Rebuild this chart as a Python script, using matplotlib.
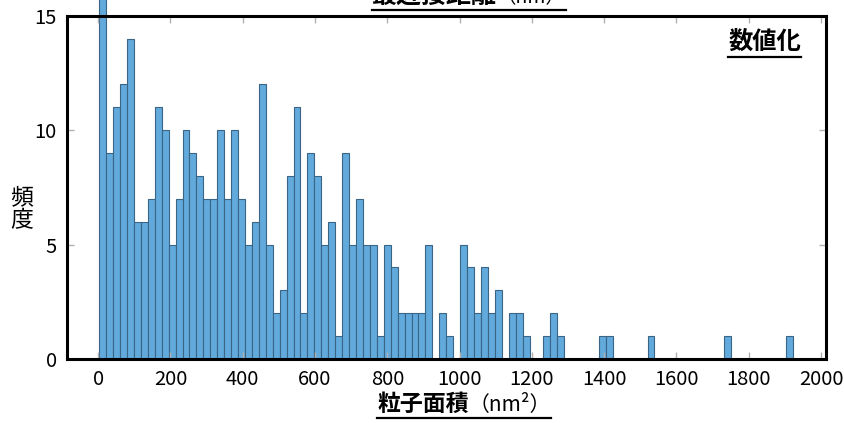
import numpy as np
import matplotlib
matplotlib.use('Agg')
import matplotlib.pyplot as plt
from matplotlib.lines import Line2D

plt.rcParams['font.family'] = ['Noto Sans CJK JP', 'DejaVu Sans']

# histogram counts per bin (100 bins)
counts = [16, 9, 11, 12, 14, 6, 6, 7, 11, 10,
          5, 7, 10, 9, 8, 7, 7, 10, 7, 10,
          7, 5, 6, 12, 5, 2, 3, 8, 11, 2,
          9, 8, 5, 6, 1, 9, 5, 7, 5, 5,
          1, 5, 4, 2, 2, 2, 2, 5, 0, 2,
          1, 0, 5, 4, 2, 4, 2, 3, 0, 2,
          2, 1, 0, 0, 1, 2, 1, 0, 0, 0,
          0, 0, 1, 1, 0, 0, 0, 0, 0, 1,
          0, 0, 0, 0, 0, 0, 0, 0, 0, 0,
          1, 0, 0, 0, 0, 0, 0, 0, 0, 1]
bin_lo = 3
bin_hi = 1923
bin_edges = np.linspace(bin_lo, bin_hi, len(counts) + 1)
x_ticks = [0, 200, 400, 600, 800, 1000, 1200, 1400, 1600, 1800, 2000]
y_ticks = [0, 5, 10, 15]

W, H = 845, 423
fig = plt.figure(figsize=(W / 100, H / 100), dpi=100)
ax = fig.add_axes([66.7 / W, 1 - 359 / H, (826.5 - 66.7) / W, (359 - 15.7) / H])

ax.bar(bin_edges[:-1], counts, width=np.diff(bin_edges), align='edge',
       color='#62a9dc', edgecolor='#3a6585', linewidth=0.8, clip_on=False)

ax.set_xlim(-87, 2015)
ax.set_ylim(0, 15)
ax.set_xticks(x_ticks)
ax.set_yticks(y_ticks)
ax.tick_params(direction='in', top=True, right=True, length=5, width=1,
               color='#b0b0b0', labelsize=14.5, pad=7)
for s in ax.spines.values():
    s.set_linewidth(2.2)
    s.set_color('black')
    s.set_zorder(5)


def px(x, y):
    return x / W, 1 - y / H


def underline(texts, y, lw=1.6):
    fig.canvas.draw()
    r = fig.canvas.get_renderer()
    bbs = [t.get_window_extent(r) for t in texts]
    x0 = min(b.x0 for b in bbs)
    x1 = max(b.x1 for b in bbs)
    fig.add_artist(Line2D([x0 / W, x1 / W], [1 - y / H] * 2,
                          color='black', lw=lw))


# title (cut at top, as in the source)
t1 = fig.text(*px(497, 8), '最近接距離', fontsize=18, fontweight='bold',
              ha='right', va='bottom')
t2 = fig.text(*px(497, 8), '（nm）', fontsize=14, ha='left', va='bottom')
underline([t1, t2], 10)

# x label
x1 = fig.text(*px(469, 416), '粒子面積', fontsize=16.5, fontweight='bold',
              ha='right', va='bottom')
x2 = fig.text(*px(469, 416), '（nm²）', fontsize=15, ha='left', va='bottom')
underline([x1, x2], 418)

# y label
fig.text(*px(22, 209), '頻\n度', fontsize=16.5, ha='center', va='center',
         linespacing=1.0)

# annotation
a = fig.text(*px(801, 54), '数値化', fontsize=17.5, fontweight='bold',
             ha='right', va='bottom')
underline([a], 57)

fig.savefig('out.png', dpi=100)
